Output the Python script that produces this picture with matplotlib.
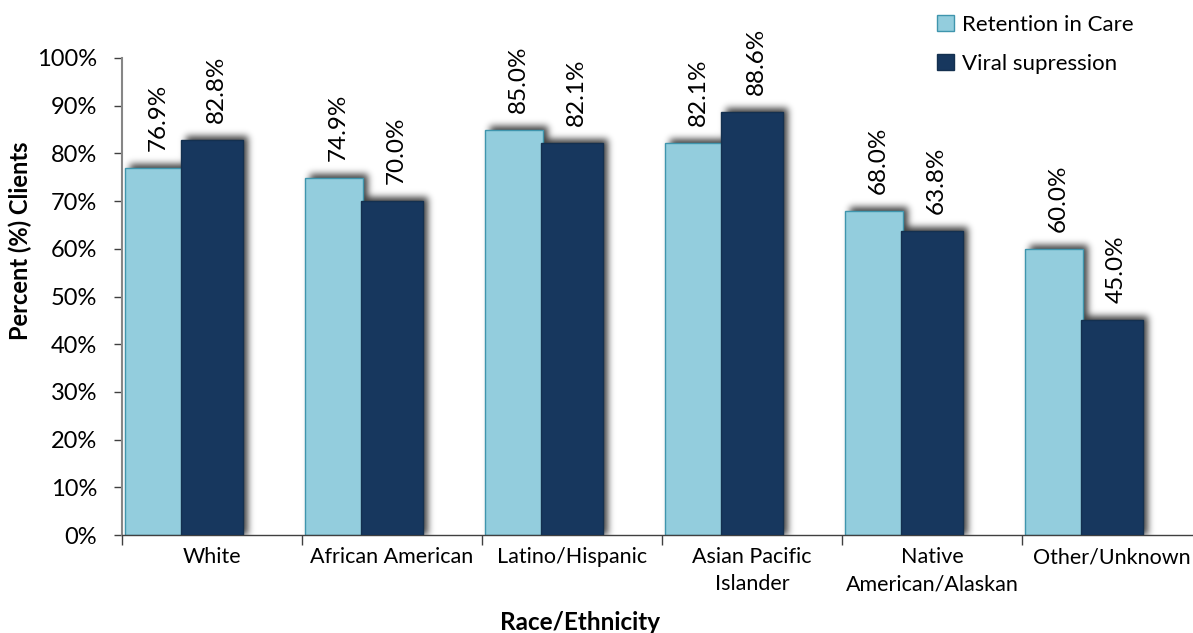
import matplotlib
matplotlib.use("Agg")
import numpy as np
import matplotlib.pyplot as plt
from matplotlib.patches import Rectangle

categories = ["White", "African American", "Latino/Hispanic",
              "Asian Pacific\nIslander", "Native\nAmerican/Alaskan", "Other/Unknown"]
retention = [76.9, 74.9, 85.0, 82.1, 68.0, 60.0]
suppression = [82.8, 70.0, 82.1, 88.6, 63.8, 45.0]
series_names = ["Retention in Care", "Viral supression"]
yticks = list(range(0, 101, 10))

LIGHT = "#93CDDD"
LIGHT_EDGE = "#3F95AD"
DARK = "#17375E"
DARK_EDGE = "#14304F"

plt.rcParams["font.family"] = ["Lato", "DejaVu Sans"]

W, H, DPI = 1193, 633, 100
fig = plt.figure(figsize=(W / DPI, H / DPI), dpi=DPI)
ax_left, ax_right, ax_bottom, ax_top = 122, 1193, 535, 58
ax = fig.add_axes([ax_left / W, 1 - ax_bottom / H,
                   (ax_right - ax_left) / W, (ax_bottom - ax_top) / H])

cat_px = 180.0
px_x = 1.0 / cat_px
px_y = 100.0 / (ax_bottom - ax_top)
aw, ah = ax_right - ax_left, ax_bottom - ax_top

bar_specs = [
    (retention, 3 * px_x, 58 * px_x, LIGHT, LIGHT_EDGE, 2),
    (suppression, 59 * px_x, 62 * px_x, DARK, DARK_EDGE, 3),
]

# soft drop shadow: blurred mask of all bars, shifted up and right
pad = 30
mask = np.zeros((ah + 2 * pad, aw + 2 * pad))
shift_x, shift_y = 5, 4
for vals, off, wid, *_ in bar_specs:
    for i, v in enumerate(vals):
        x0 = (i + off) / px_x
        x1 = (i + off + wid) / px_x
        top = v / px_y
        c0 = int(round(x0 + shift_x)) + pad
        c1 = int(round(x1 + shift_x)) + pad
        r_top = int(round(ah - top - shift_y)) + pad
        mask[r_top:ah + pad, c0:c1] = 1.0
sigma = 3.5
k = np.arange(-12, 13)
kern = np.exp(-k ** 2 / (2 * sigma ** 2))
kern /= kern.sum()
blur = np.apply_along_axis(lambda r: np.convolve(r, kern, mode="same"), 1, mask)
blur = np.apply_along_axis(lambda c: np.convolve(c, kern, mode="same"), 0, blur)
blur = blur[pad:pad + ah, pad:pad + aw]
rgba = np.zeros((ah, aw, 4))
rgba[..., 3] = np.clip(blur, 0, 1) * 0.75
ax.imshow(rgba, extent=(0, aw * px_x, 0, 100), aspect="auto",
          interpolation="bilinear", zorder=1)
ax.set_xlim(0, aw * px_x)
ax.set_ylim(0, 100)

for vals, off, wid, fc, ec, z in bar_specs:
    for i, v in enumerate(vals):
        x0 = i + off
        ax.add_patch(Rectangle((x0, 0), wid, v, facecolor=fc, edgecolor=ec,
                               linewidth=1.0, zorder=z))
        ax.text(x0 + wid / 2 + 4 * px_x, v + 17 * px_y, f"{v:.1f}%",
                rotation=90, ha="center", va="bottom", fontsize=17.5,
                color="black", zorder=5)

# axes styling
for side in ("top", "right"):
    ax.spines[side].set_visible(False)
ax.spines["left"].set_color("#868686")
ax.spines["left"].set_linewidth(1.5)
ax.spines["bottom"].set_color("#404040")
ax.spines["bottom"].set_linewidth(1.0)

ax.set_yticks(yticks)
ax.set_yticklabels([f"{t}%" for t in yticks], fontsize=17)
ax.tick_params(axis="y", direction="out", length=6, width=1, color="#404040", pad=12)

ax.set_xticks(range(0, 6))
ax.set_xticklabels([])
ax.tick_params(axis="x", direction="out", length=7, width=1, color="#404040")
for i, c in enumerate(categories):
    ax.text(i + 0.5, -12 * px_y, c, ha="center", va="top", fontsize=15.5,
            linespacing=1.45, transform=ax.transData, clip_on=False)

fig.text(20 / W, 1 - 241 / H, "Percent (%) Clients", rotation=90,
         ha="center", va="center", fontsize=17, fontweight="bold")
fig.text(580 / W, 1 - 622 / H, "Race/Ethnicity", ha="center", va="center",
         fontsize=17.5, fontweight="bold")

handles = [
    Rectangle((0, 0), 1, 1, facecolor=LIGHT, edgecolor=LIGHT_EDGE),
    Rectangle((0, 0), 1, 1, facecolor=DARK, edgecolor=DARK_EDGE),
]
fig.legend(handles, series_names, loc="upper left",
           bbox_to_anchor=(928 / W, 1 - 6 / H), frameon=False, fontsize=16,
           handlelength=0.75, handleheight=0.75, handletextpad=0.4,
           labelspacing=0.85, borderaxespad=0)

fig.savefig("out.png", dpi=DPI)
